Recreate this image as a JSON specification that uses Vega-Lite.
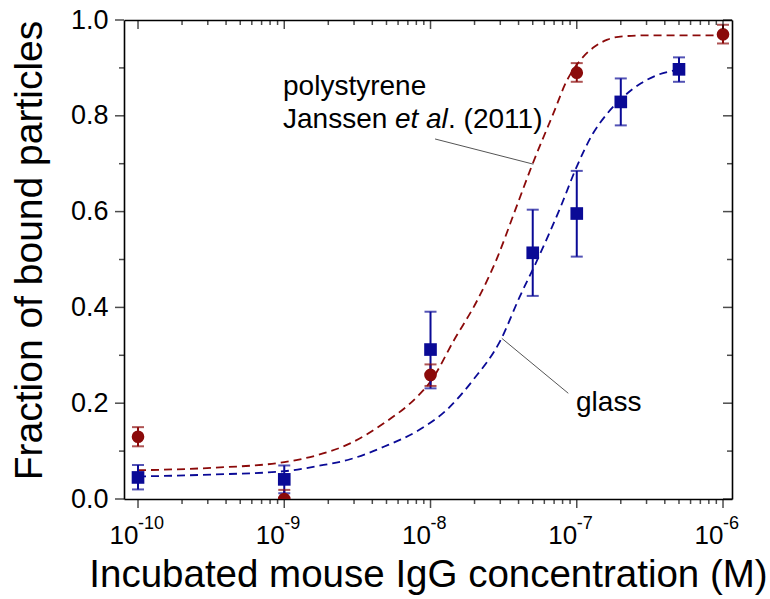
{
  "$schema": "https://vega.github.io/schema/vega-lite/v6.json",
  "width": 608,
  "height": 479,
  "autosize": "none",
  "padding": {"left": 124, "top": 20, "right": 38, "bottom": 100},
  "background": "white",
  "config": {
    "view": {"stroke": null},
    "font": "Liberation Sans",
    "axis": {
      "domainColor": "black", "domainWidth": 1.6,
      "tickOpacity": 0,
      "labelColor": "black", "titleColor": "black", "grid": false,
      "labelFont": "Liberation Sans", "titleFont": "Liberation Sans", "titleFontWeight": "normal",
      "labelOverlap": false, "zindex": 1
    }
  },
  "datasets": {
    "points": [
      {"series": "polystyrene", "c": 1e-10, "y": 0.13, "lo": 0.11, "hi": 0.15},
      {"series": "polystyrene", "c": 1e-9, "y": 0.0, "lo": -0.02, "hi": 0.019},
      {"series": "polystyrene", "c": 1e-8, "y": 0.259, "lo": 0.236, "hi": 0.281},
      {"series": "polystyrene", "c": 1e-7, "y": 0.89, "lo": 0.871, "hi": 0.91},
      {"series": "polystyrene", "c": 1e-6, "y": 0.97, "lo": 0.951, "hi": 0.99},
      {"series": "glass", "c": 1e-10, "y": 0.045, "lo": 0.02, "hi": 0.071},
      {"series": "glass", "c": 1e-9, "y": 0.041, "lo": 0.012, "hi": 0.07},
      {"series": "glass", "c": 1e-8, "y": 0.312, "lo": 0.231, "hi": 0.391},
      {"series": "glass", "c": 5e-8, "y": 0.514, "lo": 0.424, "hi": 0.604},
      {"series": "glass", "c": 1e-7, "y": 0.596, "lo": 0.506, "hi": 0.685},
      {"series": "glass", "c": 2e-7, "y": 0.829, "lo": 0.78, "hi": 0.878},
      {"series": "glass", "c": 5e-7, "y": 0.897, "lo": 0.871, "hi": 0.922}
    ],
    "curves": [
      {"series": "polystyrene", "c": 1e-10, "y": 0.06},
      {"series": "polystyrene", "c": 3.16e-10, "y": 0.065},
      {"series": "polystyrene", "c": 1e-9, "y": 0.077},
      {"series": "polystyrene", "c": 1.7e-9, "y": 0.092},
      {"series": "polystyrene", "c": 2.82e-9, "y": 0.116},
      {"series": "polystyrene", "c": 4.79e-9, "y": 0.158},
      {"series": "polystyrene", "c": 8.13e-9, "y": 0.214},
      {"series": "polystyrene", "c": 1e-8, "y": 0.245},
      {"series": "polystyrene", "c": 1.45e-8, "y": 0.332},
      {"series": "polystyrene", "c": 2.09e-8, "y": 0.415},
      {"series": "polystyrene", "c": 2.88e-8, "y": 0.506},
      {"series": "polystyrene", "c": 3.72e-8, "y": 0.596},
      {"series": "polystyrene", "c": 5.01e-8, "y": 0.701},
      {"series": "polystyrene", "c": 6.92e-8, "y": 0.805},
      {"series": "polystyrene", "c": 8.51e-8, "y": 0.872},
      {"series": "polystyrene", "c": 1.05e-7, "y": 0.915},
      {"series": "polystyrene", "c": 1.32e-7, "y": 0.944},
      {"series": "polystyrene", "c": 1.62e-7, "y": 0.959},
      {"series": "polystyrene", "c": 2.09e-7, "y": 0.966},
      {"series": "polystyrene", "c": 3e-7, "y": 0.968},
      {"series": "polystyrene", "c": 1e-6, "y": 0.968},
      {"series": "glass", "c": 1e-10, "y": 0.047},
      {"series": "glass", "c": 3.16e-10, "y": 0.051},
      {"series": "glass", "c": 1e-9, "y": 0.058},
      {"series": "glass", "c": 1.7e-9, "y": 0.069},
      {"series": "glass", "c": 2.82e-9, "y": 0.083},
      {"series": "glass", "c": 4.79e-9, "y": 0.109},
      {"series": "glass", "c": 8.13e-9, "y": 0.142},
      {"series": "glass", "c": 1.29e-8, "y": 0.186},
      {"series": "glass", "c": 1.95e-8, "y": 0.248},
      {"series": "glass", "c": 3.02e-8, "y": 0.332},
      {"series": "glass", "c": 4.07e-8, "y": 0.422},
      {"series": "glass", "c": 5.37e-8, "y": 0.499},
      {"series": "glass", "c": 7.76e-8, "y": 0.61},
      {"series": "glass", "c": 1e-7, "y": 0.694},
      {"series": "glass", "c": 1.29e-7, "y": 0.763},
      {"series": "glass", "c": 1.62e-7, "y": 0.805},
      {"series": "glass", "c": 2.09e-7, "y": 0.84},
      {"series": "glass", "c": 2.75e-7, "y": 0.868},
      {"series": "glass", "c": 3.55e-7, "y": 0.885},
      {"series": "glass", "c": 4.9e-7, "y": 0.896}
    ],
    "leaders": [
      {"c": 1.074e-8, "y": 0.7516, "c2": 5.05e-8, "y2": 0.699},
      {"c": 3.07e-8, "y": 0.3355, "c2": 8.75e-8, "y2": 0.2207}
    ],
    "notes": [
      {"t": "polystyrene", "c": 9.805e-10, "y": 0.86},
      {"t": "Janssen", "c": 9.805e-10, "y": 0.791},
      {"t": ". (2011)", "c": 1.318e-8, "y": 0.791}
    ],
    "italic": [
      {"t": "et al", "c": 5.71e-9, "y": 0.791}
    ],
    "glass": [
      {"t": "glass", "c": 9.883e-8, "y": 0.2004}
    ],
    "exps": [
      {"t": "-10", "c": 1e-10, "y": -0.052},
      {"t": "-9", "c": 1e-9, "y": -0.052},
      {"t": "-8", "c": 1e-8, "y": -0.052},
      {"t": "-7", "c": 1e-7, "y": -0.052},
      {"t": "-6", "c": 1e-6, "y": -0.052}
    ],
    "xmaj": [{"c": 1e-10}, {"c": 1e-9}, {"c": 1e-8}, {"c": 1e-7}, {"c": 1e-6}],
    "xmin": [
      {"c": 2e-10}, {"c": 3e-10}, {"c": 4e-10}, {"c": 5e-10}, {"c": 6e-10}, {"c": 7e-10}, {"c": 8e-10}, {"c": 9e-10},
      {"c": 2e-9}, {"c": 3e-9}, {"c": 4e-9}, {"c": 5e-9}, {"c": 6e-9}, {"c": 7e-9}, {"c": 8e-9}, {"c": 9e-9},
      {"c": 2e-8}, {"c": 3e-8}, {"c": 4e-8}, {"c": 5e-8}, {"c": 6e-8}, {"c": 7e-8}, {"c": 8e-8}, {"c": 9e-8},
      {"c": 2e-7}, {"c": 3e-7}, {"c": 4e-7}, {"c": 5e-7}, {"c": 6e-7}, {"c": 7e-7}, {"c": 8e-7}, {"c": 9e-7}
    ],
    "ymaj": [{"y": 0}, {"y": 0.2}, {"y": 0.4}, {"y": 0.6}, {"y": 0.8}, {"y": 1.0}],
    "ymin": [{"y": 0.1}, {"y": 0.3}, {"y": 0.5}, {"y": 0.7}, {"y": 0.9}]
  },
  "layer": [
    {
      "data": {"name": "curves"},
      "mark": {"type": "line", "strokeDash": [8, 5], "strokeWidth": 1.8, "interpolate": "monotone", "clip": true},
      "encoding": {
        "x": {
          "field": "c", "type": "quantitative",
          "scale": {"type": "log", "domain": [8.02e-11, 1.152e-6], "nice": false},
          "axis": {
            "orient": "bottom",
            "values": [1e-10, 1e-9, 1e-8, 1e-7, 1e-6],
            "labelExpr": "'10'",
            "labelAlign": "right",
            "tickSize": 9,
            "labelFontSize": 26,
            "labelPadding": 14,
            "title": "Incubated mouse IgG concentration (M)",
            "titleFontSize": 38.5,
            "titlePadding": 8
          }
        },
        "y": {
          "field": "y", "type": "quantitative",
          "scale": {"domain": [0, 1], "nice": false, "zero": false},
          "axis": {
            "orient": "left",
            "values": [0, 0.2, 0.4, 0.6, 0.8, 1.0],
            "format": ".1f",
            "tickSize": 9,
            "labelFontSize": 27,
            "labelPadding": 7,
            "title": "Fraction of bound particles",
            "titleFontSize": 39,
            "titleX": -83,
            "titleY": 230,
            "titleAngle": -90,
            "titleAlign": "center",
            "titleBaseline": "alphabetic"
          }
        },
        "color": {"field": "series", "type": "nominal", "scale": {"domain": ["polystyrene", "glass"], "range": ["#8b0a0a", "#0a0a96"]}, "legend": null}
      }
    },
    {
      "data": {"name": "points"},
      "mark": {"type": "rule", "strokeWidth": 2, "clip": true},
      "encoding": {
        "x": {"field": "c", "type": "quantitative", "scale": {"type": "log", "domain": [8.02e-11, 1.152e-6], "nice": false}, "axis": null},
        "y": {"field": "lo", "type": "quantitative", "scale": {"domain": [0, 1], "nice": false, "zero": false}, "axis": null},
        "y2": {"field": "hi"},
        "color": {"field": "series", "type": "nominal", "scale": {"domain": ["polystyrene", "glass"], "range": ["#8b0a0a", "#0a0a96"]}, "legend": null}
      }
    },
    {
      "data": {"name": "points"},
      "transform": [{"fold": ["lo", "hi"], "as": ["end", "yv"]}],
      "mark": {"type": "tick", "orient": "horizontal", "size": 12, "thickness": 2, "clip": true},
      "encoding": {
        "x": {
          "field": "c", "type": "quantitative",
          "scale": {"type": "log", "domain": [8.02e-11, 1.152e-6], "nice": false},
          "axis": {"orient": "top", "values": [1e-10], "labels": false, "title": null, "tickSize": 0}
        },
        "y": {
          "field": "yv", "type": "quantitative",
          "scale": {"domain": [0, 1], "nice": false, "zero": false},
          "axis": {"orient": "right", "values": [0], "labels": false, "title": null, "tickSize": 0}
        },
        "color": {"field": "series", "type": "nominal", "scale": {"domain": ["polystyrene", "glass"], "range": ["#8b0a0a", "#0a0a96"]}, "legend": null}
      }
    },
    {
      "data": {"name": "points"},
      "mark": {"type": "point", "filled": true, "size": 160, "opacity": 1, "clip": true},
      "encoding": {
        "x": {"field": "c", "type": "quantitative", "scale": {"type": "log", "domain": [8.02e-11, 1.152e-6], "nice": false}, "axis": null},
        "y": {"field": "y", "type": "quantitative", "scale": {"domain": [0, 1], "nice": false, "zero": false}, "axis": null},
        "shape": {"field": "series", "type": "nominal", "scale": {"domain": ["polystyrene", "glass"], "range": ["circle", "square"]}, "legend": null},
        "color": {"field": "series", "type": "nominal", "scale": {"domain": ["polystyrene", "glass"], "range": ["#8b0a0a", "#0a0a96"]}, "legend": null}
      }
    },
    {
      "data": {"name": "xmaj"},
      "mark": {"type": "tick", "orient": "vertical", "size": 9, "thickness": 1.5, "color": "black", "yOffset": 4.5},
      "encoding": {
        "x": {"field": "c", "type": "quantitative", "scale": {"type": "log", "domain": [8.02e-11, 1.152e-6], "nice": false}, "axis": null},
        "y": {"datum": 0, "type": "quantitative", "scale": {"domain": [0, 1], "nice": false, "zero": false}, "axis": null}
      }
    },
    {
      "data": {"name": "xmin"},
      "mark": {"type": "tick", "orient": "vertical", "size": 5, "thickness": 1.5, "color": "black", "yOffset": 2.5},
      "encoding": {
        "x": {"field": "c", "type": "quantitative", "scale": {"type": "log", "domain": [8.02e-11, 1.152e-6], "nice": false}, "axis": null},
        "y": {"datum": 0, "type": "quantitative", "scale": {"domain": [0, 1], "nice": false, "zero": false}, "axis": null}
      }
    },
    {
      "data": {"name": "xmaj"},
      "mark": {"type": "tick", "orient": "vertical", "size": 9, "thickness": 1.5, "color": "black", "yOffset": 4.5},
      "encoding": {
        "x": {"field": "c", "type": "quantitative", "scale": {"type": "log", "domain": [8.02e-11, 1.152e-6], "nice": false}, "axis": null},
        "y": {"datum": 1, "type": "quantitative", "scale": {"domain": [0, 1], "nice": false, "zero": false}, "axis": null}
      }
    },
    {
      "data": {"name": "xmin"},
      "mark": {"type": "tick", "orient": "vertical", "size": 5, "thickness": 1.5, "color": "black", "yOffset": 2.5},
      "encoding": {
        "x": {"field": "c", "type": "quantitative", "scale": {"type": "log", "domain": [8.02e-11, 1.152e-6], "nice": false}, "axis": null},
        "y": {"datum": 1, "type": "quantitative", "scale": {"domain": [0, 1], "nice": false, "zero": false}, "axis": null}
      }
    },
    {
      "data": {"name": "ymaj"},
      "mark": {"type": "tick", "orient": "horizontal", "size": 9, "thickness": 1.5, "color": "black", "xOffset": -4.5},
      "encoding": {
        "x": {"datum": 8.02e-11, "type": "quantitative", "scale": {"type": "log", "domain": [8.02e-11, 1.152e-6], "nice": false}, "axis": null},
        "y": {"field": "y", "type": "quantitative", "scale": {"domain": [0, 1], "nice": false, "zero": false}, "axis": null}
      }
    },
    {
      "data": {"name": "ymin"},
      "mark": {"type": "tick", "orient": "horizontal", "size": 5, "thickness": 1.5, "color": "black", "xOffset": -2.5},
      "encoding": {
        "x": {"datum": 8.02e-11, "type": "quantitative", "scale": {"type": "log", "domain": [8.02e-11, 1.152e-6], "nice": false}, "axis": null},
        "y": {"field": "y", "type": "quantitative", "scale": {"domain": [0, 1], "nice": false, "zero": false}, "axis": null}
      }
    },
    {
      "data": {"name": "ymaj"},
      "mark": {"type": "tick", "orient": "horizontal", "size": 9, "thickness": 1.5, "color": "black", "xOffset": -4.5},
      "encoding": {
        "x": {"datum": 1.152e-6, "type": "quantitative", "scale": {"type": "log", "domain": [8.02e-11, 1.152e-6], "nice": false}, "axis": null},
        "y": {"field": "y", "type": "quantitative", "scale": {"domain": [0, 1], "nice": false, "zero": false}, "axis": null}
      }
    },
    {
      "data": {"name": "ymin"},
      "mark": {"type": "tick", "orient": "horizontal", "size": 5, "thickness": 1.5, "color": "black", "xOffset": -2.5},
      "encoding": {
        "x": {"datum": 1.152e-6, "type": "quantitative", "scale": {"type": "log", "domain": [8.02e-11, 1.152e-6], "nice": false}, "axis": null},
        "y": {"field": "y", "type": "quantitative", "scale": {"domain": [0, 1], "nice": false, "zero": false}, "axis": null}
      }
    },
    {
      "data": {"name": "leaders"},
      "mark": {"type": "rule", "color": "#555555", "strokeWidth": 1},
      "encoding": {
        "x": {"field": "c", "type": "quantitative", "scale": {"type": "log", "domain": [8.02e-11, 1.152e-6], "nice": false}, "axis": null},
        "x2": {"field": "c2"},
        "y": {"field": "y", "type": "quantitative", "scale": {"domain": [0, 1], "nice": false, "zero": false}, "axis": null},
        "y2": {"field": "y2"}
      }
    },
    {
      "data": {"name": "notes"},
      "mark": {"type": "text", "align": "left", "baseline": "middle", "fontSize": 28, "font": "Liberation Sans", "color": "black"},
      "encoding": {
        "x": {"field": "c", "type": "quantitative", "scale": {"type": "log", "domain": [8.02e-11, 1.152e-6], "nice": false}, "axis": null},
        "y": {"field": "y", "type": "quantitative", "scale": {"domain": [0, 1], "nice": false, "zero": false}, "axis": null},
        "text": {"field": "t"}
      }
    },
    {
      "data": {"name": "italic"},
      "mark": {"type": "text", "align": "left", "baseline": "middle", "fontSize": 28, "fontStyle": "italic", "font": "Liberation Sans", "color": "black"},
      "encoding": {
        "x": {"field": "c", "type": "quantitative", "scale": {"type": "log", "domain": [8.02e-11, 1.152e-6], "nice": false}, "axis": null},
        "y": {"field": "y", "type": "quantitative", "scale": {"domain": [0, 1], "nice": false, "zero": false}, "axis": null},
        "text": {"field": "t"}
      }
    },
    {
      "data": {"name": "glass"},
      "mark": {"type": "text", "align": "left", "baseline": "middle", "fontSize": 28, "font": "Liberation Sans", "color": "black"},
      "encoding": {
        "x": {"field": "c", "type": "quantitative", "scale": {"type": "log", "domain": [8.02e-11, 1.152e-6], "nice": false}, "axis": null},
        "y": {"field": "y", "type": "quantitative", "scale": {"domain": [0, 1], "nice": false, "zero": false}, "axis": null},
        "text": {"field": "t"}
      }
    },
    {
      "data": {"name": "exps"},
      "mark": {"type": "text", "align": "left", "baseline": "middle", "fontSize": 18, "font": "Liberation Sans", "color": "black"},
      "encoding": {
        "x": {"field": "c", "type": "quantitative", "scale": {"type": "log", "domain": [8.02e-11, 1.152e-6], "nice": false}, "axis": null},
        "y": {"field": "y", "type": "quantitative", "scale": {"domain": [0, 1], "nice": false, "zero": false}, "axis": null},
        "text": {"field": "t"}
      }
    }
  ],
  "resolve": {"axis": {"x": "independent", "y": "independent"}}
}
